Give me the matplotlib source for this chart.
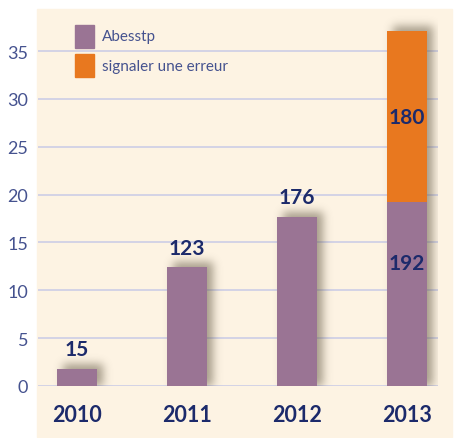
import numpy as np
import matplotlib.pyplot as plt
from matplotlib.patches import Rectangle

# data
years = ['2010', '2011', '2012', '2013']
abesstp = [1.8, 12.4, 17.7, 19.2]
erreur = [0, 0, 0, 17.9]
labels_abesstp = ['15', '123', '176', '192']
label_erreur = '180'

purple = '#9a7494'
orange = '#e8781f'
cream = '#fdf3e3'
navy = '#1c2a6b'
tickc = '#45528f'

plt.rcParams['font.family'] = ['Lato', 'DejaVu Sans']

fig = plt.figure(figsize=(4.61, 4.39), dpi=100)
fig.patch.set_facecolor('white')
# cream panel
fig.patches.append(Rectangle((37 / 461, 1 - 438 / 439), 415 / 461, 428 / 439,
                             transform=fig.transFigure, color=cream, zorder=-5))

ax = fig.add_axes([38 / 461, 1 - 387 / 439, 400 / 461, 377 / 439])
ax.set_facecolor('none')
x = np.arange(len(years))
w = 0.364
xl = (-0.3545, 3.282)
yl = (0, 39.4)
ax.set_xlim(*xl)
ax.set_ylim(*yl)

# grid
for yv in range(0, 40, 5):
    ax.axhline(yv, color='#d0d0e6', lw=1.3, zorder=1)

# blurred drop shadow built on a pixel grid matching the axes
nx, ny = 400, 377
mask = np.zeros((ny, nx))
tops = [a + e for a, e in zip(abesstp, erreur)]
off_x, off_y = 6, 5
for xi, t in zip(x, tops):
    c0 = int(round((xi - w / 2 - xl[0]) / (xl[1] - xl[0]) * nx)) + off_x
    c1 = int(round((xi + w / 2 - xl[0]) / (xl[1] - xl[0]) * nx)) + off_x
    r0 = int(round((yl[1] - t) / (yl[1] - yl[0]) * ny)) - off_y
    mask[max(r0, 0):ny, c0:c1] = 1.0
sig = 4.5
k = np.arange(-14, 15)
g = np.exp(-k ** 2 / (2 * sig ** 2))
g /= g.sum()
blur = np.apply_along_axis(lambda r: np.convolve(r, g, mode='same'), 1, mask)
blur = np.apply_along_axis(lambda r: np.convolve(r, g, mode='same'), 0, blur)
rgba = np.zeros((ny, nx, 4))
rgba[..., 0] = 0.38
rgba[..., 1] = 0.34
rgba[..., 2] = 0.26
rgba[..., 3] = 0.55 * blur
ax.imshow(rgba, extent=(xl[0], xl[1], yl[0], yl[1]), origin='upper',
          aspect='auto', zorder=2, interpolation='bilinear')

ax.bar(x, abesstp, width=w, color=purple, zorder=3, label='Abesstp')
ax.bar(x, erreur, width=w, bottom=abesstp, color=orange, zorder=3,
       label='signaler une erreur')

# value labels
for i in range(3):
    ax.text(x[i], abesstp[i] + 1.0, labels_abesstp[i], ha='center', va='bottom',
            fontsize=15, fontweight='bold', color=navy, zorder=4)
ax.text(x[3], abesstp[3] * 0.67, labels_abesstp[3], ha='center', va='center',
        fontsize=15, fontweight='bold', color=navy, zorder=4)
ax.text(x[3], abesstp[3] + erreur[3] / 2, label_erreur, ha='center', va='center',
        fontsize=15, fontweight='bold', color=navy, zorder=4)

ax.set_xlim(*xl)
ax.set_ylim(*yl)
ax.set_xticks(x)
ax.set_xticklabels(years, fontsize=15.5, fontweight='bold', color=navy)
ax.set_yticks(range(0, 40, 5))
ax.set_yticklabels([str(v) for v in range(0, 40, 5)], fontsize=13, color=tickc,
                   fontweight='normal')
ax.tick_params(axis='y', length=0, pad=7)
ax.tick_params(axis='x', length=0, pad=13)
for sp in ax.spines.values():
    sp.set_visible(False)

# legend drawn by hand
leg = [('Abesstp', purple, 26), ('signaler une erreur', orange, 55)]
for name, c, ytop in leg:
    fig.patches.append(Rectangle((75 / 461, 1 - (ytop + 23) / 439), 19 / 461, 23 / 439,
                                 transform=fig.transFigure, color=c, zorder=5))
    fig.text(102 / 461, 1 - (ytop + 11.5) / 439, name, fontsize=11, color=tickc,
             va='center', ha='left', zorder=5)

fig.savefig('out.png', dpi=100)
